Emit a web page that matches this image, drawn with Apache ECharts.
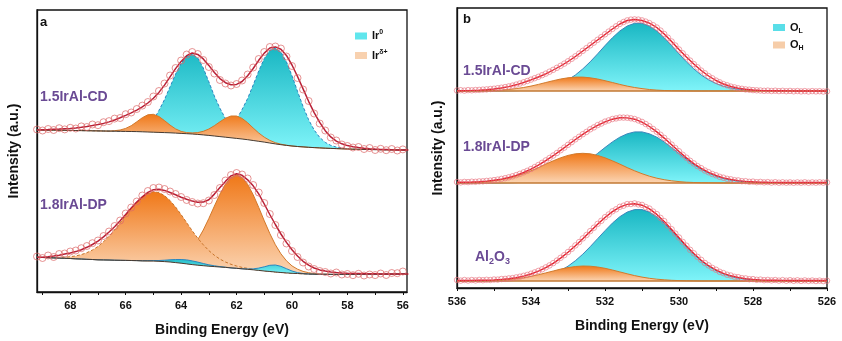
<!DOCTYPE html>
<html><head><meta charset="utf-8">
<script src="https://cdn.jsdelivr.net/npm/echarts@6/dist/echarts.min.js"></script>
<style>html,body{margin:0;padding:0;background:#fff}#c{width:842px;height:341px}</style>
</head><body><div id="c"></div>
<script>
// ---------- Panel a : Ir 4f (binding energy, eV) ----------
const E_A = [69.2,69.0,68.8,68.6,68.4,68.2,68.0,67.8,67.6,67.4,67.2,67.0,66.8,66.6,66.4,66.2,66.0,65.8,65.6,65.4,
65.2,65.0,64.8,64.6,64.4,64.2,64.0,63.8,63.6,63.4,63.2,63.0,62.8,62.6,62.4,62.2,62.0,61.8,61.6,61.4,
61.2,61.0,60.8,60.6,60.4,60.2,60.0,59.8,59.6,59.4,59.2,59.0,58.8,58.6,58.4,58.2,58.0,57.8,57.6,57.4,
57.2,57.0,56.8,56.6,56.4,56.2,56.0,55.8];
const A_TICKS = [56,57,58,59,60,61,62,63,64,65,66,67,68,69];
const A_LABELS = [56,58,60,62,64,66,68];

// 1.5IrAl-CD
const CD_A_BASE = [162.0,162.0,161.9,161.9,161.8,161.7,161.6,161.5,161.4,161.3,
161.2,161.1,161.0,160.9,160.8,160.7,160.6,160.5,160.4,160.2,
160.0,159.8,159.6,159.4,159.2,158.9,158.6,158.3,158.0,157.6,
157.1,156.6,156.0,155.4,154.8,154.2,153.6,153.0,152.3,151.5,
150.7,149.9,149.0,148.1,147.3,146.6,146.0,145.5,145.1,144.7,
144.4,144.1,143.8,143.6,143.4,143.2,143.0,142.8,142.7,142.6,
142.5,142.4,142.3,142.2,142.1,142.1,142.0,142.0];
const CD_A_IR0 = [0,0,0,0,0,0,0,0,0,0,
0,0,0,0,0,0,0,0.4,1.0,2.5,
6.0,12.0,22.0,33.0,46.0,59.0,70.0,77.5,80,76.4,
66.9,53.6,39.9,28.4,18.5,16,19,29.5,41.2,55.5,
70.3,83.6,92.7,96,92.7,83.6,70.3,55.2,40.4,27.6,
17.6,10.5,5.8,3.0,1.5,0.7,0.3,0,0,0,
0,0,0,0,0,0,0,0];
const CD_A_IRD = [0,0,0,0,0,0,0,0,0,0,
0,0,0,0,0.5,1.3,3.0,5.8,9.8,14.1,
17.2,17.9,15.9,12.0,7.7,4.2,2.0,1.1,1.1,1.8,
3.6,6.4,10.3,14.8,19.0,21.8,22.4,20.6,17.0,12.5,
8.3,4.9,2.6,1.2,0.5,0.2,0,0,0,0,
0,0,0,0,0,0,0,0,0,0,
0,0,0,0,0,0,0,0];
const CD_A_FIT = [162.0,162.3,162.5,162.8,163.0,163.3,163.6,164.1,164.7,165.5,
166.4,167.4,168.6,170.1,172.0,174.2,176.6,179.1,181.9,185.2,
189.0,193.8,199.6,206.9,215.2,223.4,230.6,236.3,239.0,237.6,
233.1,226.6,219.5,213.4,209.3,207.2,207.6,210.5,216.3,223.5,
231.7,238.9,244.0,245.1,242.8,236.6,227.0,215.5,203.1,190.7,
179.4,169.6,161.3,155.1,150.9,148.2,146.4,145.2,144.4,143.8,
143.3,142.9,142.6,142.4,142.2,142.1,142.0,142.0];
const CD_A_RAW = [162.5,161.5,163.0,162.0,163.8,162.6,164.2,163.5,165.6,165.0,
167.5,166.8,169.8,170.9,173.4,174.0,177.8,179.5,183.0,186.4,
190.0,195.5,201.0,208.5,216.5,224.0,231.5,237.5,240.0,238.0,
232.0,225.0,218.5,212.0,208.5,206.5,208.0,211.5,217.5,224.5,
233.0,240.0,245.0,245.5,243.5,235.5,226.0,214.0,202.5,191.0,
178.5,168.5,161.5,154.5,151.5,147.5,146.0,144.5,145.0,143.0,
144.0,142.0,143.2,141.8,143.0,141.5,142.6,141.8];

// 1.8IrAl-DP
const DP_A_BASE = [34.7,34.5,34.3,34.1,33.9,33.7,33.5,33.2,33.0,32.7,
32.5,32.2,32.1,32.0,31.8,31.7,31.6,31.5,31.4,31.2,
31.1,31.0,30.7,30.4,30.0,29.4,28.8,28.1,27.4,26.8,
26.3,25.8,25.4,25.0,24.6,24.1,23.7,23.2,22.7,22.2,
21.6,21.0,20.5,20.0,19.5,19.1,18.7,18.5,18.2,18.0,
17.8,17.7,17.7,17.6,17.6,17.6,17.6,17.6,17.7,17.7,
17.8,17.8,17.8,17.9,17.9,18.0,18.0,18.0];
const DP_A_IRD1 = [0.1,0.1,0.2,0.4,0.7,1.1,1.8,2.9,4.4,6.6,
9.5,13.3,18.1,23.8,30.4,37.5,45.0,52.2,58.7,64.0,
67.6,69.3,68.7,66.0,61.5,55.6,48.6,41.3,33.9,27.0,
20.9,15.6,11.3,7.9,5.4,3.6,2.3,1.4,0.9,0.5,
0.3,0.2,0.1,0,0,0,0,0,0,0,
0,0,0,0,0,0,0,0,0,0,
0,0,0,0,0,0,0,0];
const DP_A_IRD2 = [0,0,0,0,0,0,0,0,0,0,
0,0,0,0,0,0,0,0,0,0,
0,0.3,0.6,1.1,2.1,3.9,6.7,11.0,17.2,25.4,
35.7,47.7,60.5,72.8,83.3,90.4,93.3,91.4,85.0,75.1,
63.0,50.2,38.0,27.3,18.7,12.1,7.4,4.3,2.4,1.3,
0.6,0.3,0.1,0,0,0,0,0,0,0,
0,0,0,0,0,0,0,0];
const DP_A_IR0 = [0,0,0,0,0,0,0,0,0,0,
0,0,0,0,0,0,0,0,0,0,
0.2,0.4,0.8,1.4,2.2,3.1,3.7,4.0,3.7,3.1,
2.2,1.4,0.8,0.4,0.2,0,0,0,0.3,0.9,
2.3,4.2,6.2,7.0,6.2,4.2,2.3,0.9,0.3,0,
0,0,0,0,0,0,0,0,0,0,
0,0,0,0,0,0,0,0];
const DP_A_FIT = [34.7,34.8,35.3,35.9,36.7,37.9,39.1,40.4,42.3,44.7,
47.5,50.8,55.1,60.0,65.3,71.2,77.6,84.0,89.9,95.2,
99.6,102.3,102.7,101.6,99.5,97.2,94.8,92.7,90.9,89.8,
89.9,92.3,97.9,104.5,110.6,116.1,118.2,116.7,112.2,106.2,
98.1,88.0,77.5,67.5,58.0,49.6,42.2,36.0,30.7,26.8,
24.0,22.1,20.9,20.0,19.5,19.1,18.8,18.6,18.5,18.3,
18.3,18.2,18.1,18.1,18.0,18.0,18.0,18.0];
const DP_A_RAW = [35.5,34.0,36.5,35.0,38.0,38.5,40.5,41.5,43.8,46.0,
48.8,51.5,56.0,60.5,66.0,71.5,78.5,84.5,90.5,96.5,
101.0,104.0,104.5,103.0,100.5,98.0,95.0,92.0,90.0,88.5,
88.8,91.5,97.0,104.0,111.5,117.0,119.0,117.5,113.5,107.0,
99.5,89.0,78.0,67.0,57.0,48.5,41.0,35.0,29.5,25.5,
23.0,21.0,20.0,18.5,19.5,17.5,18.0,16.8,18.2,16.5,
17.5,16.9,18.5,17.0,19.0,18.8,20.5,19.5];

// ---------- Panel b : O 1s ----------
const E_B = [536.0,535.8,535.6,535.4,535.2,535.0,534.8,534.6,534.4,534.2,
534.0,533.8,533.6,533.4,533.2,533.0,532.8,532.6,532.4,532.2,
532.0,531.8,531.6,531.4,531.2,531.0,530.8,530.6,530.4,530.2,
530.0,529.8,529.6,529.4,529.2,529.0,528.8,528.6,528.4,528.2,
528.0,527.8,527.6,527.4,527.2,527.0,526.8,526.6,526.4,526.2,526.0];
const E_B_RAW = [536.0,535.9,535.8,535.7,535.6,535.5,535.4,535.3,535.2,535.1,
535.0,534.9,534.8,534.7,534.6,534.5,534.4,534.3,534.2,534.1,
534.0,533.9,533.8,533.7,533.6,533.5,533.4,533.3,533.2,533.1,
533.0,532.9,532.8,532.7,532.6,532.5,532.4,532.3,532.2,532.1,
532.0,531.9,531.8,531.7,531.6,531.5,531.4,531.3,531.2,531.1,
531.0,530.9,530.8,530.7,530.6,530.5,530.4,530.3,530.2,530.1,
530.0,529.9,529.8,529.7,529.6,529.5,529.4,529.3,529.2,529.1,
529.0,528.9,528.8,528.7,528.6,528.5,528.4,528.3,528.2,528.1,
528.0,527.9,527.8,527.7,527.6,527.5,527.4,527.3,527.2,527.1,
527.0,526.9,526.8,526.7,526.6,526.5,526.4,526.3,526.2,526.1,526.0];
const B_TICKS = [526,527,528,529,530,531,532,533,534,535,536];
const B_LABELS = [526,528,530,532,534,536];

// 1.5IrAl-CD
const CD_B_BASE = [197,197,197,197,197,197,197,197,197,197,197,197,197,197,197,197,197,197,197,197,197,197,197,197,197,197,
197,197,197,197,197,197,197,197,197,197,197,197,197,197,197,197,197,197,197,197,197,197,197,197,197];
const CD_B_OL = [0,0,0,0,0,0,0.1,0.2,0.3,0.6,
1.0,1.8,3.0,4.8,7.5,11.2,16.0,22.1,29.2,37.1,
45.4,53.2,60.0,65.0,67.7,67.7,65.0,60.0,53.2,45.4,
37.1,29.2,22.1,16.0,11.2,7.5,4.8,3.0,1.8,1.0,
0.6,0.3,0.1,0,0,0,0,0,0,0,0];
const CD_B_OH = [0,0,0.1,0.2,0.3,0.5,0.9,1.5,2.4,3.5,
4.9,6.6,8.5,10.3,12.0,13.2,13.9,13.9,13.2,12.0,
10.3,8.5,6.6,4.9,3.5,2.4,1.5,0.9,0.5,0.3,
0.2,0.1,0,0,0,0,0,0,0,0,
0,0,0,0,0,0,0,0,0,0,0];
const CD_B_FIT = [197.3,197.4,197.6,197.9,198.3,199.0,200.0,201.4,203.2,205.5,
208.2,211.0,214.2,218.0,222.0,226.5,231.5,237.0,242.5,248.0,
253.5,259.0,264.0,267.5,268.5,267.5,264.8,260.5,254.0,246.5,
238.5,231.0,224.0,217.5,212.0,207.5,204.0,201.5,199.8,198.7,
198.0,197.6,197.4,197.3,197.2,197.1,197.0,197.0,197.0,197.0,197.0];
const CD_B_RAW = [197.5,197.8,197.4,197.9,197.7,198.0,198.1,198.4,198.6,199.0,
199.3,199.8,200.3,200.9,201.6,202.4,203.4,204.5,205.7,207.0,
208.4,209.8,211.2,212.8,214.4,216.3,218.2,220.2,222.2,224.4,
226.7,229.2,231.7,234.4,237.2,239.9,242.7,245.4,248.2,250.9,
253.7,256.4,259.1,261.7,264.1,266.0,267.6,268.4,268.6,268.4,
267.6,266.4,264.9,262.8,260.5,257.4,254.0,250.3,246.5,242.5,
238.5,234.7,230.9,227.4,223.9,220.7,217.4,214.7,211.9,209.7,
207.4,205.7,203.9,202.7,201.4,200.6,199.7,199.2,198.6,198.3,
197.9,197.7,197.5,197.2,197.4,197.0,197.3,196.9,197.2,196.8,
197.1,196.7,197.0,196.6,196.9,196.5,196.9,196.6,196.8,196.5,196.7];

// 1.8IrAl-DP
const DP_B_BASE = [105,105,105,105,105,105,105,105,105,105,105,105,105,105,105,105,105,105,105,105,105,105,105,105,105,105,
105,105,105,105,105,105,105,105,105,105,105,105,105,105,105,105,105,105,105,105,105,105,105,105,105];
const DP_B_OL = [0,0,0,0,0,0,0.1,0.2,0.4,0.7,
1.1,1.9,3.0,4.6,6.9,9.9,13.8,18.4,23.8,29.6,
35.5,41.1,45.8,49.2,51.1,51.1,49.2,45.8,41.1,35.5,
29.6,23.8,18.4,13.8,9.9,6.9,4.6,3.0,1.9,1.1,
0.7,0.4,0.2,0.1,0,0,0,0,0,0,0];
const DP_B_OH = [0.2,0.3,0.5,0.8,1.4,2.2,3.3,4.8,6.8,9.3,
12.2,15.4,18.9,22.2,25.2,27.6,29.2,29.7,29.2,27.6,
25.2,22.2,18.9,15.4,12.2,9.3,6.8,4.8,3.3,2.2,
1.4,0.8,0.5,0.3,0.2,0.1,0,0,0,0,
0,0,0,0,0,0,0,0,0,0,0];
const DP_B_FIT = [105.7,105.8,106.0,106.3,106.9,107.7,108.9,110.5,112.7,115.5,
118.8,122.8,127.4,132.3,137.6,143.0,148.5,153.6,158.5,162.7,
166.2,168.8,170.2,170.1,168.8,165.9,161.5,156.1,149.9,143.2,
136.5,130.1,124.4,119.6,115.6,112.5,110.1,108.5,107.4,106.6,
106.2,105.9,105.7,105.6,105.5,105.5,105.5,105.5,105.5,105.5,105.5];
const DP_B_RAW = [106.0,105.6,106.1,105.9,106.3,106.2,106.6,106.7,107.1,107.4,
107.9,108.4,109.1,109.8,110.7,111.7,112.9,114.2,115.7,117.2,
119.0,120.9,123.0,125.2,127.6,130.0,132.5,135.0,137.8,140.4,
143.2,145.9,148.7,151.2,153.8,156.1,158.7,160.6,162.9,164.5,
166.4,167.6,169.0,169.6,170.4,170.4,170.3,169.7,169.0,167.6,
166.1,164.0,161.7,159.0,156.3,153.2,150.1,146.7,143.4,139.9,
136.7,133.2,130.3,127.2,124.6,121.9,119.8,117.5,115.8,114.0,
112.7,111.2,110.3,109.2,108.7,107.8,107.6,106.8,106.8,106.2,
106.4,105.8,106.1,105.6,105.9,105.4,105.8,105.3,105.7,105.3,
105.6,105.2,105.6,105.3,105.7,105.2,105.6,105.3,105.7,105.4,105.6];

// Al2O3
const AL_B_BASE = [7,7,7,7,7,7,7,7,7,7,7,7,7,7,7,7,7,7,7,7,7,7,7,7,7,7,
7,7,7,7,7,7,7,7,7,7,7,7,7,7,7,7,7,7,7,7,7,7,7,7,7];
const AL_B_OL = [0,0,0,0,0,0.1,0.2,0.3,0.6,1.1,
1.8,3.0,4.7,7.1,10.5,14.8,20.3,26.8,34.3,42.3,
50.3,57.9,64.3,68.9,71.4,71.4,68.9,64.3,57.9,50.3,
42.3,34.3,26.8,20.3,14.8,10.5,7.1,4.7,3.0,1.8,
1.1,0.6,0.3,0.2,0.1,0,0,0,0,0,0];
const AL_B_OH = [0,0,0.1,0.2,0.3,0.5,0.9,1.5,2.2,3.3,
4.7,6.3,8.1,10.0,11.9,13.4,14.5,15.0,14.8,14.0,
12.7,11.0,9.1,7.2,5.4,3.9,2.7,1.8,1.2,0.7,
0.4,0.2,0.1,0,0,0,0,0,0,0,
0,0,0,0,0,0,0,0,0,0,0];
const AL_B_FIT = [7.5,7.5,7.6,7.7,7.8,8.1,8.6,9.3,10.3,11.9,
14.0,16.8,20.3,24.6,29.9,35.7,42.3,49.3,56.6,63.8,
70.5,76.4,80.9,83.6,84.3,82.8,79.1,73.6,66.6,58.5,
50.2,42.0,34.4,27.8,22.3,18.0,14.6,12.2,10.5,9.3,
8.6,8.1,7.8,7.7,7.6,7.5,7.5,7.5,7.5,7.5,7.5];
const AL_B_RAW = [8.0,7.4,8.0,7.5,8.0,7.6,8.1,7.8,8.2,8.0,
8.5,8.4,9.0,9.1,9.6,9.9,10.6,11.3,12.2,13.1,
14.3,15.6,17.1,18.7,20.6,22.6,24.9,27.4,30.2,32.9,
36.0,39.1,42.6,45.9,49.6,53.0,56.9,60.3,64.1,67.2,
70.8,73.5,76.7,78.7,81.2,82.3,83.9,84.0,84.6,83.6,
83.1,81.0,79.4,76.4,73.9,70.1,66.9,62.6,58.8,54.4,
50.5,46.1,42.3,38.2,34.7,31.1,28.1,25.0,22.6,20.1,
18.3,16.2,14.9,13.3,12.5,11.2,10.8,9.8,9.6,8.8,
8.9,8.2,8.4,7.8,8.1,7.6,8.0,7.4,7.9,7.3,
7.8,7.2,7.7,7.1,7.6,7.1,7.5,7.0,7.4,6.9,7.3];

// ---------- chart ----------
const FONT = '"Liberation Sans", Arial, Helvetica, sans-serif';
const PURPLE = '#6a4a94';
const chart = echarts.init(document.getElementById('c'), null, {renderer: 'canvas'});
function pts(xs, ys) { return xs.map(function (x, i) { return [x, ys[i]]; }); }
function grad(top, bot) {
  return new echarts.graphic.LinearGradient(0, 0, 0, 1, [{offset: 0, color: top}, {offset: 1, color: bot}]);
}
const CYAN = ['#19b7c3', '#7ff4f9'];
const ORANGE = ['#f07818', '#fbd5b4'];
const series = [];
// a fitted component: filled from its (Shirley) baseline up to baseline + component height
function comp(ax, xs, base, vals, fill, lineColor, dashed) {
  const data = xs.map(function (x, i) { return [x, base[i], base[i] + vals[i]]; });
  series.push({
    type: 'custom', coordinateSystem: 'cartesian2d', xAxisIndex: ax, yAxisIndex: ax, data: data,
    encode: {x: 0, y: [1, 2]}, silent: true, clip: true, z: 2,
    renderItem: function (params, api) {
      if (params.dataIndexInside !== 0) return null;
      const n = params.dataInsideLength;
      const top = [], bot = [];
      for (let i = 0; i < n; i++) {
        const x = api.value(0, i);
        top.push(api.coord([x, api.value(2, i)]));
        bot.push(api.coord([x, api.value(1, i)]));
      }
      const poly = top.concat(bot.slice().reverse());
      return {type: 'group', children: [
        {type: 'polygon', shape: {points: poly}, style: {fill: grad(fill[0], fill[1]), stroke: null}},
        {type: 'polyline', shape: {points: top}, style: {fill: null, stroke: lineColor, lineWidth: 1,
          lineDash: dashed ? [3, 2] : null}}
      ]};
    }
  });
}
function line(ax, xs, vals, color, width) {
  series.push({type: 'line', xAxisIndex: ax, yAxisIndex: ax, data: pts(xs, vals), symbol: 'none', silent: true,
    lineStyle: {color: color, width: width}, z: 3});
}
function raw(ax, xs, vals, color, size, bw) {
  series.push({type: 'scatter', xAxisIndex: ax, yAxisIndex: ax, data: pts(xs, vals), symbol: 'circle',
    symbolSize: size, silent: true, itemStyle: {color: 'rgba(255,255,255,0)', borderColor: color, borderWidth: bw}, z: 4});
}
// panel a, 1.5IrAl-CD
comp(0, E_A, CD_A_BASE, CD_A_IR0, CYAN, '#2a86c0', true);
comp(0, E_A, CD_A_BASE, CD_A_IRD, ORANGE, '#d2782a', false);
line(0, E_A, CD_A_BASE, '#4a3a30', 1);
line(0, E_A, CD_A_FIT, '#b81f36', 1.5);
raw(0, E_A, CD_A_RAW, '#dc6868', 7, 0.9);
// panel a, 1.8IrAl-DP
comp(0, E_A, DP_A_BASE, DP_A_IRD2, ORANGE, '#d2782a', false);
comp(0, E_A, DP_A_BASE, DP_A_IRD1, ORANGE, '#c8742a', true);
comp(0, E_A, DP_A_BASE, DP_A_IR0, CYAN, '#2a86c0', false);
line(0, E_A, DP_A_BASE, '#4a3a30', 1);
line(0, E_A, DP_A_FIT, '#b81f36', 1.5);
raw(0, E_A, DP_A_RAW, '#dc6868', 7, 0.9);
// panel b
[[CD_B_BASE, CD_B_OL, CD_B_OH, CD_B_FIT, CD_B_RAW],
 [DP_B_BASE, DP_B_OL, DP_B_OH, DP_B_FIT, DP_B_RAW],
 [AL_B_BASE, AL_B_OL, AL_B_OH, AL_B_FIT, AL_B_RAW]].forEach(function (s) {
  comp(1, E_B, s[0], s[1], CYAN, '#3a86bb', false);
  comp(1, E_B, s[0], s[2], ORANGE, '#d27a2c', false);
  line(1, E_B, s[0], '#c27a34', 1.3);
  line(1, E_B, s[3], '#e3202c', 1.4);
  raw(1, E_B_RAW, s[4], '#e8707c', 5.5, 0.8);
});
// legend entries
series.push({type: 'scatter', name: 'Ir0', xAxisIndex: 0, yAxisIndex: 0, data: [], itemStyle: {color: '#38e0e8'}});
series.push({type: 'scatter', name: 'Irδ+', xAxisIndex: 0, yAxisIndex: 0, data: [], itemStyle: {color: '#f6c59b'}});
series.push({type: 'scatter', name: 'OL', xAxisIndex: 1, yAxisIndex: 1, data: [], itemStyle: {color: '#2fd6e2'}});
series.push({type: 'scatter', name: 'OH', xAxisIndex: 1, yAxisIndex: 1, data: [], itemStyle: {color: '#f4c093'}});

const richLeg = {
  m: {fontFamily: FONT, fontSize: 11, fontWeight: 'bold', color: '#111', lineHeight: 14},
  sup: {fontFamily: FONT, fontSize: 7, fontWeight: 'bold', color: '#111', lineHeight: 8, verticalAlign: 'top'},
  sub: {fontFamily: FONT, fontSize: 7, fontWeight: 'bold', color: '#111', lineHeight: 8, verticalAlign: 'bottom'}
};
function xAx(grid, min, max, ticks, labels) {
  return {type: 'value', gridIndex: grid, inverse: true, min: min, max: max,
    axisLine: {show: true, onZero: false, lineStyle: {color: '#111', width: 1.3}},
    axisTick: {show: true, inside: false, length: 3, customValues: ticks, lineStyle: {color: '#111', width: 1}},
    axisLabel: {customValues: labels, fontFamily: FONT, fontSize: 11, fontWeight: 'bold', color: '#111', margin: 8},
    splitLine: {show: false},
    name: 'Binding Energy (eV)', nameLocation: 'middle', nameGap: 31,
    nameTextStyle: {fontFamily: FONT, fontSize: 14, fontWeight: 'bold', color: '#111'}};
}
function yAx(grid, max, gap) {
  return {type: 'value', gridIndex: grid, min: 0, max: max,
    axisLine: {show: true, lineStyle: {color: '#111', width: 1.3}},
    axisTick: {show: false}, axisLabel: {show: false}, splitLine: {show: false},
    name: 'Intensity (a.u.)', nameLocation: 'middle', nameGap: gap,
    nameTextStyle: {fontFamily: FONT, fontSize: 14, fontWeight: 'bold', color: '#111'}};
}
function label(x, y, txt, size) {
  return {type: 'text', left: x, top: y, z: 10,
    style: {text: txt, font: 'bold ' + size + 'px ' + FONT, fill: PURPLE}};
}
chart.setOption({
  animation: false,
  backgroundColor: '#fff',
  grid: [
    {left: 37, right: 435, top: 10, bottom: 49, show: true, borderColor: '#111', borderWidth: 1.3, outerBoundsMode: 'none'},
    {left: 457, right: 15, top: 8, bottom: 53, show: true, borderColor: '#111', borderWidth: 1.3, outerBoundsMode: 'none'}
  ],
  xAxis: [xAx(0, 55.85, 69.2, A_TICKS, A_LABELS), xAx(1, 526, 536, B_TICKS, B_LABELS)],
  yAxis: [yAx(0, 282, 16), yAx(1, 280, 12)],
  legend: [
    {data: ['Ir0', 'Irδ+'], left: 350, top: 24, orient: 'vertical', icon: 'rect', itemWidth: 12, itemHeight: 7,
      itemGap: 7, selectedMode: false,
      formatter: function (n) { return n === 'Ir0' ? '{m|Ir}{sup|0}' : '{m|Ir}{sup|δ+}'; },
      textStyle: {rich: richLeg}},
    {data: ['OL', 'OH'], left: 768, top: 17, orient: 'vertical', icon: 'rect', itemWidth: 12, itemHeight: 7,
      itemGap: 5, selectedMode: false,
      formatter: function (n) { return n === 'OL' ? '{m|O}{sub|L}' : '{m|O}{sub|H}'; },
      textStyle: {rich: richLeg}}
  ],
  graphic: [
    {type: 'text', left: 40, top: 16, z: 10, style: {text: 'a', font: 'bold 13px ' + FONT, fill: '#111'}},
    {type: 'text', left: 463, top: 13, z: 10, style: {text: 'b', font: 'bold 13px ' + FONT, fill: '#111'}},
    label(40, 90, '1.5IrAl-CD', 14),
    label(40, 198, '1.8IrAl-DP', 14),
    label(463, 64, '1.5IrAl-CD', 14),
    label(463, 140, '1.8IrAl-DP', 14),
    {type: 'text', left: 475, top: 250, z: 10, style: {text: '{m|Al}{s|2}{m|O}{s|3}', rich: {
      m: {fontFamily: FONT, fontSize: 14, fontWeight: 'bold', fill: PURPLE, color: PURPLE, lineHeight: 18},
      s: {fontFamily: FONT, fontSize: 9, fontWeight: 'bold', fill: PURPLE, color: PURPLE, lineHeight: 10, verticalAlign: 'bottom'}}}}
  ],
  series: series
});
</script>
</body></html>
